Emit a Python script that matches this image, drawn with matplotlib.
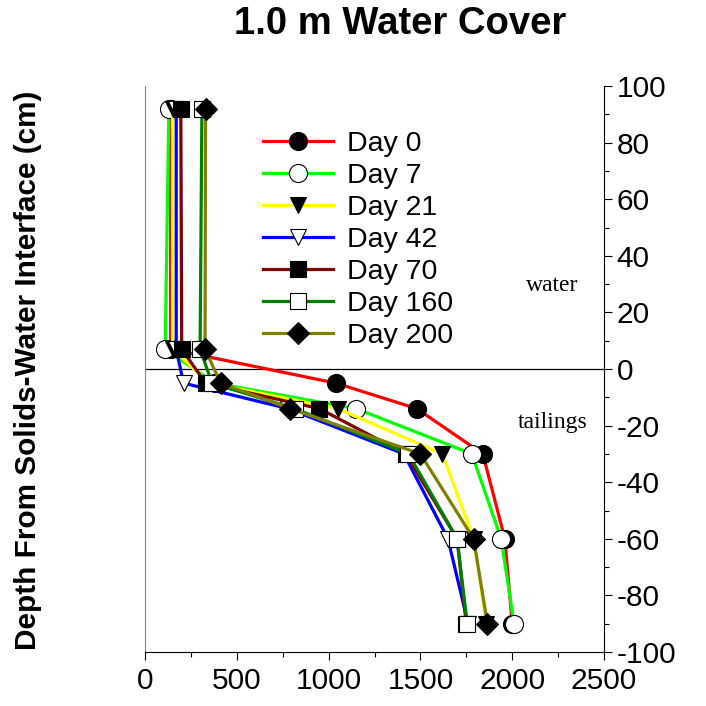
import matplotlib
matplotlib.use("Agg")
import matplotlib.pyplot as plt
from matplotlib.ticker import MultipleLocator

# Sampling depths (cm) relative to the solids-water interface
depth = [92, 7, -5, -14, -30, -60, -90]

# Measured profiles for each sampling day
day0 = [140, 140, 1040, 1480, 1840, 1960, 2000]
day7 = [130, 110, 380, 1150, 1780, 1940, 2010]
day21 = [150, 150, 350, 1050, 1620, 1790, 1860]
day42 = [170, 170, 210, 780, 1410, 1650, 1760]
day70 = [195, 200, 330, 950, 1420, 1700, 1750]
day160 = [310, 300, 365, 815, 1435, 1700, 1755]
day200 = [330, 327, 412, 790, 1500, 1790, 1865]

labels = ["Day 0", "Day 7", "Day 21", "Day 42", "Day 70", "Day 160", "Day 200"]
series = [day0, day7, day21, day42, day70, day160, day200]

colors = ["#FF0000", "#00FF00", "#FFFF00", "#0000FF", "#800000", "#008000", "#808000"]
markers = ["o", "o", "v", "v", "s", "s", "D"]
faces = ["black", "white", "black", "white", "black", "white", "black"]
msizes = {"o": 13, "v": 12, "s": 11, "D": 11}

plt.rcParams["font.family"] = ["Liberation Sans", "DejaVu Sans"]
plt.rcParams["axes.unicode_minus"] = False

fig = plt.figure(figsize=(7.06, 7.06), dpi=100)
ax = fig.add_axes([145 / 706, 54 / 706, 459 / 706, 566 / 706])

for vals, lab, c, m, fc in zip(series, labels, colors, markers, faces):
    ax.plot(vals, depth, color=c, lw=2.3, marker=m, ms=msizes[m],
            mfc=fc, mec="black", mew=0.8, label=lab, zorder=3)

ax.axhline(0, color="black", lw=0.9, zorder=2)

ax.set_xlim(0, 2500)
ax.set_ylim(-100, 100)
ax.xaxis.set_major_locator(MultipleLocator(500))
ax.xaxis.set_minor_locator(MultipleLocator(250))
ax.yaxis.set_major_locator(MultipleLocator(20))
ax.yaxis.set_minor_locator(MultipleLocator(10))
ax.yaxis.tick_right()
ax.tick_params(axis="both", which="major", direction="out", length=6, width=0.8,
               labelsize=21.5)
ax.tick_params(axis="x", which="major", pad=5)
ax.tick_params(axis="y", which="major", pad=3)
ax.tick_params(axis="both", which="minor", direction="out", length=3.5, width=0.8)

ax.spines["top"].set_visible(False)
ax.spines["left"].set_color("#888888")
for s in ("bottom", "right"):
    ax.spines[s].set_linewidth(0.8)

ax.text(0.887, 0.648, "water", transform=ax.transAxes, family="Liberation Serif",
        fontsize=17, ha="center", va="center")
ax.text(0.889, 0.405, "tailings", transform=ax.transAxes, family="Liberation Serif",
        fontsize=17, ha="center", va="center")

leg = ax.legend(loc="upper left", bbox_to_anchor=(0.257, 0.920), frameon=False,
                fontsize=20.5, handlelength=2.45, handletextpad=0.5, labelspacing=0.21,
                borderaxespad=0, borderpad=0)

fig.text(400 / 706, 1 - 24 / 706, "1.0 m Water Cover", ha="center", va="center",
         fontsize=27.5, fontweight="bold")
fig.text(28 / 706, 1 - 370 / 706, "Depth From Solids-Water Interface (cm)", rotation=90,
         ha="center", va="center", fontsize=21.4, fontweight="bold")

fig.savefig("out.png", dpi=100)
